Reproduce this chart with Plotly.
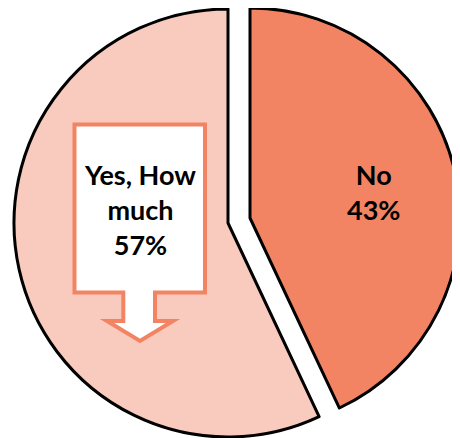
import plotly.graph_objects as go

# ---- data ----
labels = ["No", "Yes, How much"]
values = [43, 57]
colors = ["#F28463", "#F8CBBE"]

# page has an 8px body margin; the figure fills the rest of the 460x438 window
OFF = 8
W, H = 460 - OFF, 438 - OFF
TRANSP = "rgba(0,0,0,0)"
EDGE = "#000000"
FONT = "Lato"


def px(x, y):
    """page pixel -> paper fraction"""
    return (x - OFF) / W, 1 - (y - OFF) / H


def dom(cx, cy, r):
    """page-pixel centre/radius -> paper domain"""
    x0, y1 = px(cx - r, cy - r)
    x1, y0 = px(cx + r, cy + r)
    clamp = lambda v: min(1.0, max(0.0, v))
    return dict(x=[clamp(x0), clamp(x1)], y=[clamp(y0), clamp(y1)])


total = sum(values)
pcts = [round(v / total * 100) for v in values]

fig = go.Figure()

# exploded "No" slice
fig.add_trace(go.Pie(
    labels=labels, values=values, sort=False, direction="clockwise", rotation=0,
    domain=dom(250, 218, 210),
    marker=dict(colors=[colors[0], TRANSP], line=dict(color=[EDGE, TRANSP], width=[3, 0])),
    textinfo="none",
    hoverinfo="label+percent", showlegend=False,
))

# "Yes" slice
fig.add_trace(go.Pie(
    labels=labels, values=values, sort=False, direction="clockwise", rotation=0,
    domain=dom(228, 223, 214),
    marker=dict(colors=[TRANSP, colors[1]], line=dict(color=[TRANSP, EDGE], width=[0, 3])),
    textinfo="none",
    hoverinfo="label+percent", showlegend=False,
))

# callout (down-arrow box)
pts = [(74.5, 124.5), (205, 124.5), (205, 292.5), (155, 292.5), (155, 321), (173, 321),
       (140, 341), (107, 321), (123.3, 321), (123.3, 292.5), (74.5, 292.5)]
path = "M " + " L ".join("%.5f,%.5f" % px(x, y) for x, y in pts) + " Z"
fig.add_shape(type="path", path=path, xref="paper", yref="paper",
              fillcolor="white", line=dict(color=colors[0], width=4))

# slice labels
yes_label = "<br>".join(labels[1].rsplit(" ", 1))
ax, ay = px(140, 209)
fig.add_annotation(text=f"<b>{yes_label}<br>{pcts[1]}%</b>", x=ax, y=ay,
                   xref="paper", yref="paper", xanchor="center", yanchor="middle",
                   showarrow=False, font=dict(family=FONT, size=27, color="black"))
nx, ny = px(373, 192)
fig.add_annotation(text=f"<b>{labels[0]}<br>{pcts[0]}%</b>", x=nx, y=ny,
                   xref="paper", yref="paper", xanchor="center", yanchor="middle",
                   showarrow=False, font=dict(family=FONT, size=27, color="black"))

fig.update_layout(width=W, height=H, margin=dict(l=0, r=0, t=0, b=0),
                  paper_bgcolor="white", plot_bgcolor="white")

fig.write_html("out.html")
